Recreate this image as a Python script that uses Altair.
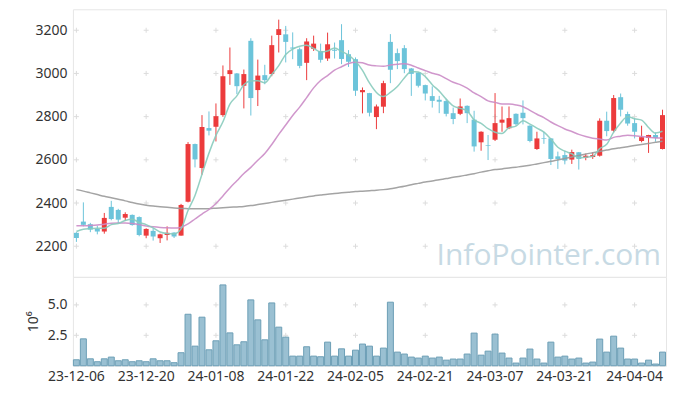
import altair as alt
import pandas as pd

# ---- trading days (KRX), 2023-12-06 .. 2024-04-11 ----
holidays = ["2023-12-25", "2023-12-29", "2024-01-01", "2024-02-09",
            "2024-02-12", "2024-03-01", "2024-04-10"]
days = [d for d in pd.bdate_range("2023-12-06", "2024-04-11")
        if d.strftime("%Y-%m-%d") not in holidays]
dates = [d.strftime("%y-%m-%d") for d in days]
tick_dates = dates[::10]

opens = [2262, 2314, 2302, 2280, 2268, 2382, 2368, 2332, 2345, 2335,
         2249, 2271, 2237, 2252, 2263, 2249, 2406, 2673, 2562, 2747,
         2753, 2807, 2997, 3000, 2943, 3151, 2923, 2992, 2997, 3178,
         3181, 3120, 3112, 3049, 3114, 3104, 3069, 3110, 3154, 3089,
         3066, 2913, 2909, 2798, 2846, 3146, 3094, 3117, 3023, 3004,
         2946, 2895, 2878, 2872, 2816, 2813, 2850, 2786, 2681, 2667,
         2693, 2772, 2746, 2813, 2818, 2758, 2650, 2700, 2699, 2616,
         2622, 2601, 2635, 2610, 2613, 2619, 2781, 2735, 2890, 2812,
         2770, 2687, 2701, 2715, 2650]
highs = [2265, 2403, 2308, 2295, 2354, 2410, 2373, 2357, 2347, 2338,
         2283, 2283, 2258, 2292, 2265, 2396, 2682, 2675, 2807, 2824,
         2861, 3037, 3120, 3002, 3018, 3163, 3064, 3040, 3175, 3249,
         3220, 3190, 3120, 3163, 3175, 3138, 3189, 3143, 3228, 3108,
         3074, 2935, 2910, 2856, 2966, 3182, 3115, 3131, 3025, 3006,
         2948, 2940, 2896, 2881, 2842, 2884, 2852, 2827, 2732, 2715,
         2909, 2847, 2847, 2815, 2875, 2760, 2730, 2730, 2701, 2638,
         2642, 2647, 2636, 2628, 2634, 2792, 2823, 2900, 2907, 2823,
         2792, 2758, 2716, 2727, 2832]
lows = [2220, 2292, 2265, 2255, 2258, 2320, 2305, 2317, 2295, 2246,
        2237, 2226, 2215, 2227, 2238, 2249, 2403, 2565, 2531, 2713,
        2685, 2799, 2947, 2904, 2838, 2805, 2849, 2950, 2987, 3097,
        3051, 3066, 3024, 2969, 3104, 3050, 3058, 3069, 3043, 3030,
        2896, 2815, 2801, 2742, 2816, 2955, 3020, 3001, 2896, 2935,
        2875, 2842, 2816, 2801, 2765, 2807, 2770, 2638, 2642, 2599,
        2687, 2730, 2742, 2758, 2764, 2681, 2646, 2674, 2576, 2558,
        2579, 2581, 2555, 2598, 2604, 2615, 2709, 2727, 2801, 2758,
        2699, 2681, 2632, 2684, 2648]
closes = [2238, 2299, 2277, 2268, 2331, 2326, 2323, 2349, 2298, 2252,
          2280, 2245, 2255, 2262, 2245, 2391, 2673, 2602, 2752, 2735,
          2802, 2987, 3015, 2941, 2997, 2886, 2990, 2969, 3131, 3205,
          3146, 3115, 3035, 3148, 3138, 3063, 3135, 3105, 3067, 3054,
          2920, 2923, 2818, 2847, 2955, 3017, 3057, 3020, 2998, 2943,
          2907, 2873, 2869, 2813, 2789, 2847, 2816, 2662, 2730, 2664,
          2770, 2786, 2793, 2765, 2793, 2687, 2699, 2697, 2604, 2604,
          2597, 2636, 2604, 2619, 2622, 2781, 2733, 2886, 2832, 2768,
          2730, 2705, 2715, 2701, 2807]
volumes = [0.49, 2.21, 0.57, 0.33, 0.57, 0.71, 0.41, 0.49, 0.33, 0.41,
           0.33, 0.57, 0.41, 0.41, 0.25, 1.07, 4.23, 1.61, 3.99, 1.31,
           2.05, 6.64, 2.70, 1.72, 1.97, 5.41, 3.77, 2.13, 5.16, 3.17,
           2.35, 0.79, 0.79, 1.56, 0.79, 0.74, 1.94, 0.79, 1.39, 0.79,
           1.28, 1.78, 1.61, 0.79, 1.45, 5.22, 1.12, 0.96, 0.71, 0.63,
           0.79, 0.63, 0.71, 0.46, 0.55, 0.55, 0.96, 2.68, 0.87, 1.20,
           2.60, 1.04, 0.63, 0.22, 0.63, 1.37, 0.55, 0.22, 1.94, 0.71,
           0.79, 0.55, 0.63, 0.22, 0.30, 2.19, 1.12, 2.43, 1.45, 0.55,
           0.55, 0.22, 0.46, 0.14, 1.12]
ma5 = [2268, 2279, 2281, 2283, 2283, 2300, 2305, 2319, 2325, 2310,
       2300, 2285, 2266, 2259, 2257, 2280, 2365, 2435, 2533, 2631,
       2713, 2776, 2858, 2896, 2948, 2965, 2966, 2957, 2995, 3036,
       3088, 3113, 3126, 3130, 3116, 3100, 3104, 3118, 3102, 3085,
       3056, 3014, 2956, 2912, 2893, 2912, 2939, 2979, 3009, 3007,
       2985, 2948, 2918, 2881, 2850, 2838, 2827, 2785, 2769, 2744,
       2728, 2722, 2749, 2756, 2781, 2765, 2747, 2728, 2696, 2658,
       2640, 2628, 2609, 2612, 2616, 2652, 2672, 2728, 2771, 2800,
       2790, 2784, 2750, 2724, 2732]
ma20 = [2295, 2295, 2296, 2298, 2302, 2306, 2307, 2307, 2305, 2300,
        2294, 2290, 2287, 2285, 2284, 2288, 2303, 2326, 2349, 2370,
        2398, 2433, 2470, 2503, 2537, 2565, 2598, 2629, 2671, 2718,
        2761, 2805, 2844, 2888, 2933, 2967, 2990, 3015, 3031, 3046,
        3052, 3049, 3039, 3035, 3033, 3039, 3042, 3045, 3038, 3025,
        3013, 3001, 2993, 2976, 2959, 2948, 2932, 2910, 2893, 2873,
        2866, 2859, 2858, 2854, 2846, 2829, 2811, 2795, 2775, 2758,
        2743, 2731, 2718, 2708, 2700, 2696, 2692, 2704, 2709, 2714,
        2712, 2708, 2704, 2701, 2701]
ma120 = [2462, 2455, 2447, 2439, 2431, 2424, 2417, 2410, 2402, 2395,
         2390, 2386, 2383, 2380, 2377, 2375, 2374, 2373, 2373, 2374,
         2376, 2378, 2380, 2382, 2384, 2388, 2393, 2398, 2403, 2408,
         2413, 2418, 2423, 2428, 2433, 2437, 2441, 2444, 2447, 2450,
         2453, 2455, 2457, 2459, 2462, 2466, 2472, 2478, 2485, 2491,
         2497, 2502, 2508, 2513, 2519, 2524, 2530, 2536, 2543, 2549,
         2555, 2558, 2562, 2566, 2570, 2575, 2581, 2587, 2593, 2599,
         2606, 2613, 2620, 2627, 2633, 2639, 2645, 2651, 2656, 2661,
         2666, 2671, 2676, 2681, 2686]

price_ticks = [2200, 2400, 2600, 2800, 3000, 3200]
vol_ticks = [2.5, 5.0]

UP, DOWN = "#ec3b3c", "#6cc4da"
MA_COLORS = {"ma5": "#88cbbd", "ma20": "#cb8cc6", "ma120": "#9a9a9a"}

df = pd.DataFrame({"d": dates, "o": opens, "h": highs, "l": lows,
                   "c": closes, "v": volumes})
df["col"] = [UP if c >= o else DOWN for o, c in zip(opens, closes)]

ma_rows = []
for key, vals in (("ma120", ma120), ("ma20", ma20), ("ma5", ma5)):
    for d, v in zip(dates, vals):
        ma_rows.append({"d": d, "ma": key, "val": v, "col": MA_COLORS[key]})
ma_df = pd.DataFrame(ma_rows)

cross_p = pd.DataFrame([{"d": d, "y": y} for d in tick_dates for y in price_ticks])
cross_v = pd.DataFrame([{"d": d, "y": y} for d in tick_dates for y in vol_ticks])

W = 594
FONT = "Noto Sans"
xscale = alt.Scale(domain=dates, paddingInner=0, paddingOuter=0)

xaxis = alt.Axis(values=tick_dates, labelAngle=0, ticks=False, domain=False,
                 grid=False, labelFont=FONT, labelFontSize=14,
                 labelColor="#333333", labelPadding=4, title=None)


def xenc(axis=None, center=True):
    if center:
        return alt.X("d:O", sort=dates, scale=xscale, axis=axis, bandPosition=0.5)
    return alt.X("d:O", sort=dates, scale=xscale, axis=axis)


pscale = alt.Scale(domain=[2058, 3297], nice=False, zero=False)
paxis = alt.Axis(values=price_ticks, format="d", ticks=False, domain=False,
                 grid=False, labelFontSize=14, labelFont=FONT, labelColor="#333333",
                 labelPadding=6, minExtent=32, maxExtent=32,
                 title="10⁶", titleOpacity=0, titleFontSize=14, titleFont=FONT,
                 titleFontWeight="normal", titlePadding=0)

cross_mark = dict(shape="M-1,0L1,0M0,-1L0,1", size=25, filled=False,
                  stroke="#dcdcdc", strokeWidth=1, opacity=1)

p_cross = alt.Chart(cross_p).mark_point(**cross_mark).encode(
    x=xenc(), y=alt.Y("y:Q", scale=pscale, axis=paxis))

watermark = alt.Chart(pd.DataFrame({"t": ["InfoPointer.com"]})).mark_text(
    font="Open Sans", fontSize=30, color="#c7dae4", align="right",
    baseline="alphabetic").encode(text="t:N", x=alt.value(589), y=alt.value(256))

wicks = alt.Chart(df).mark_rule(strokeWidth=1).encode(
    x=xenc(), y=alt.Y("l:Q", scale=pscale, axis=paxis), y2="h:Q",
    color=alt.Color("col:N", scale=None))
bodies = alt.Chart(df).mark_bar(width=5).encode(
    x=xenc(center=False), y=alt.Y("o:Q", scale=pscale, axis=paxis), y2="c:Q",
    color=alt.Color("col:N", scale=None))
lines = alt.Chart(ma_df).mark_line(strokeWidth=1.5, interpolate="monotone",
                                   opacity=0.9).encode(
    x=xenc(), y=alt.Y("val:Q", scale=pscale, axis=paxis),
    color=alt.Color("col:N", scale=None), detail="ma:N")

price = alt.layer(p_cross, watermark, wicks, bodies, lines).properties(
    width=W, height=268)

vscale = alt.Scale(domain=[0, 7.3], nice=False)
vaxis = alt.Axis(values=vol_ticks, format=".1f", ticks=False, domain=False,
                 grid=False, labelFontSize=14, labelFont=FONT, labelColor="#333333",
                 labelPadding=6, minExtent=32, maxExtent=32,
                 title="10⁶", titleFontSize=14, titleFont=FONT,
                 titleFontWeight="normal", titleColor="#333333", titlePadding=0)

v_cross = alt.Chart(cross_v).mark_point(**cross_mark).encode(
    x=xenc(axis=xaxis), y=alt.Y("y:Q", scale=vscale, axis=vaxis))
vbars = alt.Chart(df).mark_bar(width=6, fill="#9ac0d2", stroke="#6c9fb6",
                               strokeWidth=1).encode(
    x=xenc(axis=xaxis, center=False), y=alt.Y("v:Q", scale=vscale, axis=vaxis))
volume = alt.layer(v_cross, vbars).properties(width=W, height=89)

chart = alt.vconcat(price, volume, spacing=0, bounds="flush").properties(
    padding={"left": 18, "top": 0, "right": 2, "bottom": 2}
).configure_view(stroke="#e6e6e6", strokeWidth=1)

chart.save("out.html", embed_options={"renderer": "svg", "actions": False})
